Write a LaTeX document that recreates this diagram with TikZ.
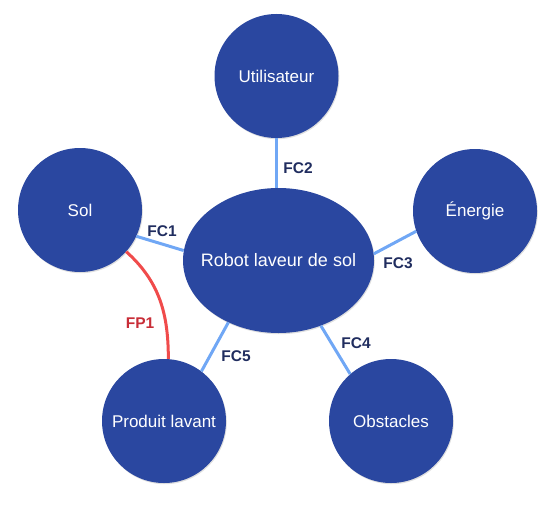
\documentclass[tikz,border=0pt]{standalone}
\usepackage{fontspec}
\setmainfont{Liberation Sans}
\usetikzlibrary{shadows,shapes.geometric}
\definecolor{nodeblue}{RGB}{42,71,160}
\definecolor{linkblue}{RGB}{112,167,245}
\definecolor{linkred}{RGB}{240,75,75}
\definecolor{labnavy}{RGB}{32,45,95}
\definecolor{labred}{RGB}{200,45,55}
\tikzset{
  bubble/.style={circle, fill=nodeblue, minimum size=124pt, inner sep=0pt,
    text=white, font=\fontsize{17}{20}\selectfont,
    drop shadow={shadow xshift=0.8pt, shadow yshift=-1.2pt, opacity=0.25}},
  centre/.style={ellipse, fill=nodeblue, minimum width=191pt, minimum height=145pt, inner sep=0pt,
    text=white, font=\fontsize{18}{21}\selectfont,
    drop shadow={shadow xshift=0.8pt, shadow yshift=-1.2pt, opacity=0.25}},
  link/.style={draw=linkblue, line width=3pt},
  fplink/.style={draw=linkred, line width=3pt},
  lab/.style={text=labnavy, font=\bfseries\fontsize{15.5}{18}\selectfont, inner sep=0pt},
  fplab/.style={text=labred, font=\bfseries\fontsize{15.5}{18}\selectfont, inner sep=0pt}
}
\begin{document}
\begin{tikzpicture}[x=1pt,y=-1pt]
\useasboundingbox (0,0) rectangle (556,511);
\node[centre] (robot) at (278.5,260.5) {\makebox[0pt]{Robot laveur de sol}};
\node[bubble] (util) at (276.5,76) {Utilisateur};
\node[bubble] (energie) at (475,211) {Énergie};
\node[bubble] (sol) at (80,210) {Sol};
\node[bubble] (prod) at (164,421) {Produit lavant};
\node[bubble] (obst) at (391,421) {Obstacles};
\draw[link] (util.south) -- (util.south |- robot.north);
\draw[link] (sol.-25) -- (robot.174);
\draw[link] (robot.4.5) -- (energie.199.6);
\draw[link] (robot.-57.4) -- (obst.131);
\draw[link] (robot.231) -- (prod.53.5);
\draw[fplink] (sol.-42) to[out=-42, in=90] (prod.86);
\node[lab] (l1) at (162,231) {FC1};
\node[lab] (l2) at (298,168) {FC2};
\node[lab] (l3) at (398,263) {FC3};
\node[lab] (l4) at (356,343) {FC4};
\node[lab] (l5) at (236,356) {FC5};
\node[fplab] (lp) at (140,323) {FP1};
\end{tikzpicture}
\end{document}
